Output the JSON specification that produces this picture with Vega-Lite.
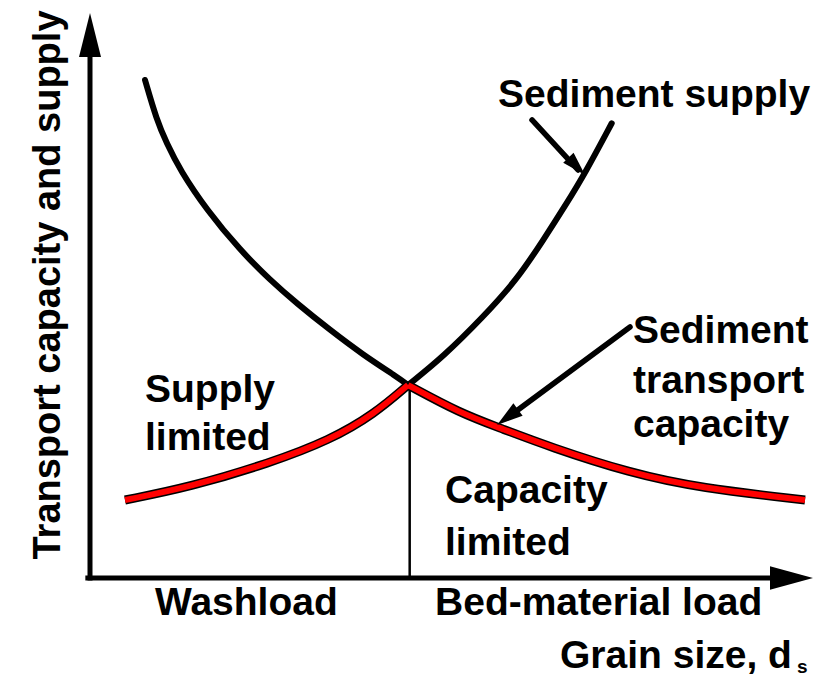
{
  "$schema": "https://vega.github.io/schema/vega-lite/v6.json",
  "width": 825,
  "height": 679,
  "padding": 0,
  "autosize": {"type": "fit", "contains": "padding"},
  "background": "white",
  "config": {"view": {"stroke": null}},
  "datasets": {
    "axes": [
      {"seg": "yaxis", "o": 1, "x": 0, "y": 0},
      {"seg": "yaxis", "o": 2, "x": 0, "y": 96},
      {"seg": "xaxis", "o": 1, "x": -0.3, "y": 0},
      {"seg": "xaxis", "o": 2, "x": 96, "y": 0}
    ],
    "yhead": [{"x": 0, "y": 96.96}],
    "xhead": [{"x": 97.43, "y": 0}],
    "supply": [
      {"branch": "fine", "o": 1, "x": 7.64, "y": 88.93},
      {"branch": "fine", "o": 2, "x": 9.26, "y": 81.79},
      {"branch": "fine", "o": 3, "x": 10.65, "y": 77.63},
      {"branch": "fine", "o": 4, "x": 12.5, "y": 72.86},
      {"branch": "fine", "o": 5, "x": 16.21, "y": 65.71},
      {"branch": "fine", "o": 6, "x": 20.83, "y": 58.57},
      {"branch": "fine", "o": 7, "x": 25.0, "y": 53.21},
      {"branch": "fine", "o": 8, "x": 28.71, "y": 49.05},
      {"branch": "fine", "o": 9, "x": 33.33, "y": 44.29},
      {"branch": "fine", "o": 10, "x": 37.96, "y": 39.82},
      {"branch": "fine", "o": 11, "x": 42.6, "y": 35.95},
      {"branch": "fine", "o": 12, "x": 44.17, "y": 34.46},
      {"branch": "coarse", "o": 1, "x": 44.17, "y": 34.46},
      {"branch": "coarse", "o": 2, "x": 49.07, "y": 39.52},
      {"branch": "coarse", "o": 3, "x": 54.63, "y": 46.66},
      {"branch": "coarse", "o": 4, "x": 59.26, "y": 53.21},
      {"branch": "coarse", "o": 5, "x": 62.96, "y": 60.36},
      {"branch": "coarse", "o": 6, "x": 66.21, "y": 66.91},
      {"branch": "coarse", "o": 7, "x": 68.75, "y": 72.27},
      {"branch": "coarse", "o": 8, "x": 72.46, "y": 81.2}
    ],
    "capacity": [
      {"branch": "fine", "o": 1, "x": 4.86, "y": 13.93},
      {"branch": "fine", "o": 2, "x": 13.89, "y": 16.25},
      {"branch": "fine", "o": 3, "x": 25.0, "y": 20.54},
      {"branch": "fine", "o": 4, "x": 33.33, "y": 24.64},
      {"branch": "fine", "o": 5, "x": 39.5, "y": 29.3},
      {"branch": "fine", "o": 6, "x": 44.17, "y": 34.46},
      {"branch": "coarse", "o": 1, "x": 44.17, "y": 34.46},
      {"branch": "coarse", "o": 2, "x": 51.39, "y": 29.46},
      {"branch": "coarse", "o": 3, "x": 56.94, "y": 26.79},
      {"branch": "coarse", "o": 4, "x": 63.89, "y": 23.39},
      {"branch": "coarse", "o": 5, "x": 75.0, "y": 18.75},
      {"branch": "coarse", "o": 6, "x": 84.72, "y": 16.07},
      {"branch": "coarse", "o": 7, "x": 99.31, "y": 13.93}
    ],
    "divider": [
      {"o": 1, "x": 44.4, "y": 34.2},
      {"o": 2, "x": 44.4, "y": 0}
    ],
    "pointers": [
      {"p": "supply", "o": 1, "x": 61.39, "y": 81.79},
      {"p": "supply", "o": 2, "x": 67.78, "y": 72.86},
      {"p": "capacity", "o": 1, "x": 75.0, "y": 44.82},
      {"p": "capacity", "o": 2, "x": 57.92, "y": 28.57}
    ],
    "head1": [{"x": 67.6, "y": 73.5}],
    "head2": [{"x": 57.99, "y": 28.7}],
    "labels": [
      {"text": "Sediment supply", "x": 56.67, "y": 84.11},
      {"text": "Sediment", "x": 75.42, "y": 41.96},
      {"text": "transport", "x": 75.42, "y": 33.04},
      {"text": "capacity", "x": 75.42, "y": 25.18},
      {"text": "Supply", "x": 7.64, "y": 31.43},
      {"text": "limited", "x": 7.64, "y": 22.86},
      {"text": "Capacity", "x": 49.31, "y": 13.39},
      {"text": "limited", "x": 49.31, "y": 4.11},
      {"text": "Washload", "x": 9.03, "y": -6.61},
      {"text": "Bed-material load", "x": 47.92, "y": -6.61},
      {"text": "Grain size, d", "x": 65.28, "y": -16.07}
    ],
    "sub": [{"text": "s", "x": 98.2, "y": -16.9}],
    "ytitle": [{"text": "Transport capacity and supply", "x": -4.17, "y": 52.32}]
  },
  "encoding": {
    "x": {"field": "x", "type": "quantitative", "scale": {"domain": [-12.5, 102.083], "nice": false, "zero": false}, "axis": null},
    "y": {"field": "y", "type": "quantitative", "scale": {"domain": [-18.036, 103.214], "nice": false, "zero": false}, "axis": null}
  },
  "layer": [
    {
      "data": {"name": "axes"},
      "mark": {"type": "line", "color": "black", "strokeWidth": 5, "strokeCap": "square"},
      "encoding": {"detail": {"field": "seg"}, "order": {"field": "o", "type": "quantitative"}}
    },
    {
      "data": {"name": "yhead"},
      "mark": {"type": "point", "shape": "M0,-1L-0.5,1L0.5,1Z", "filled": true, "color": "black", "opacity": 1, "size": 1936}
    },
    {
      "data": {"name": "xhead"},
      "mark": {"type": "point", "shape": "M1,0L-1,-0.55L-1,0.55Z", "filled": true, "color": "black", "opacity": 1, "size": 1849}
    },
    {
      "data": {"name": "divider"},
      "mark": {"type": "line", "color": "black", "strokeWidth": 2.5},
      "encoding": {"order": {"field": "o", "type": "quantitative"}}
    },
    {
      "data": {"name": "supply"},
      "mark": {"type": "line", "color": "black", "strokeWidth": 6, "interpolate": "basis", "strokeCap": "round"},
      "encoding": {"detail": {"field": "branch"}, "order": {"field": "o", "type": "quantitative"}}
    },
    {
      "data": {"name": "capacity"},
      "mark": {"type": "line", "color": "black", "strokeWidth": 9, "interpolate": "basis", "strokeCap": "butt", "strokeJoin": "miter"},
      "encoding": {"detail": {"field": "branch"}, "order": {"field": "o", "type": "quantitative"}}
    },
    {
      "data": {"name": "capacity"},
      "mark": {"type": "line", "color": "#ff0000", "strokeWidth": 6, "interpolate": "basis", "strokeCap": "butt"},
      "encoding": {"detail": {"field": "branch"}, "order": {"field": "o", "type": "quantitative"}}
    },
    {
      "data": {"name": "pointers"},
      "mark": {"type": "line", "color": "black", "strokeWidth": 5.5, "strokeCap": "round"},
      "encoding": {"detail": {"field": "p"}, "order": {"field": "o", "type": "quantitative"}}
    },
    {
      "data": {"name": "head1"},
      "mark": {"type": "point", "shape": "M1,0L-1,-0.6L-1,0.6Z", "angle": 46, "filled": true, "color": "black", "opacity": 1, "size": 576}
    },
    {
      "data": {"name": "head2"},
      "mark": {"type": "point", "shape": "M1,0L-1,-0.6L-1,0.6Z", "angle": 143.6, "filled": true, "color": "black", "opacity": 1, "size": 676}
    },
    {
      "data": {"name": "labels"},
      "mark": {"type": "text", "align": "left", "baseline": "alphabetic", "font": "Liberation Sans", "fontWeight": "bold", "fontSize": 39, "color": "black"},
      "encoding": {"text": {"field": "text"}}
    },
    {
      "data": {"name": "sub"},
      "mark": {"type": "text", "align": "left", "baseline": "alphabetic", "font": "Liberation Sans", "fontWeight": "bold", "fontSize": 19, "color": "black"},
      "encoding": {"text": {"field": "text"}}
    },
    {
      "data": {"name": "ytitle"},
      "mark": {"type": "text", "align": "center", "baseline": "alphabetic", "angle": 270, "font": "Liberation Sans", "fontWeight": "bold", "fontSize": 38, "color": "black"},
      "encoding": {"text": {"field": "text"}}
    }
  ]
}
